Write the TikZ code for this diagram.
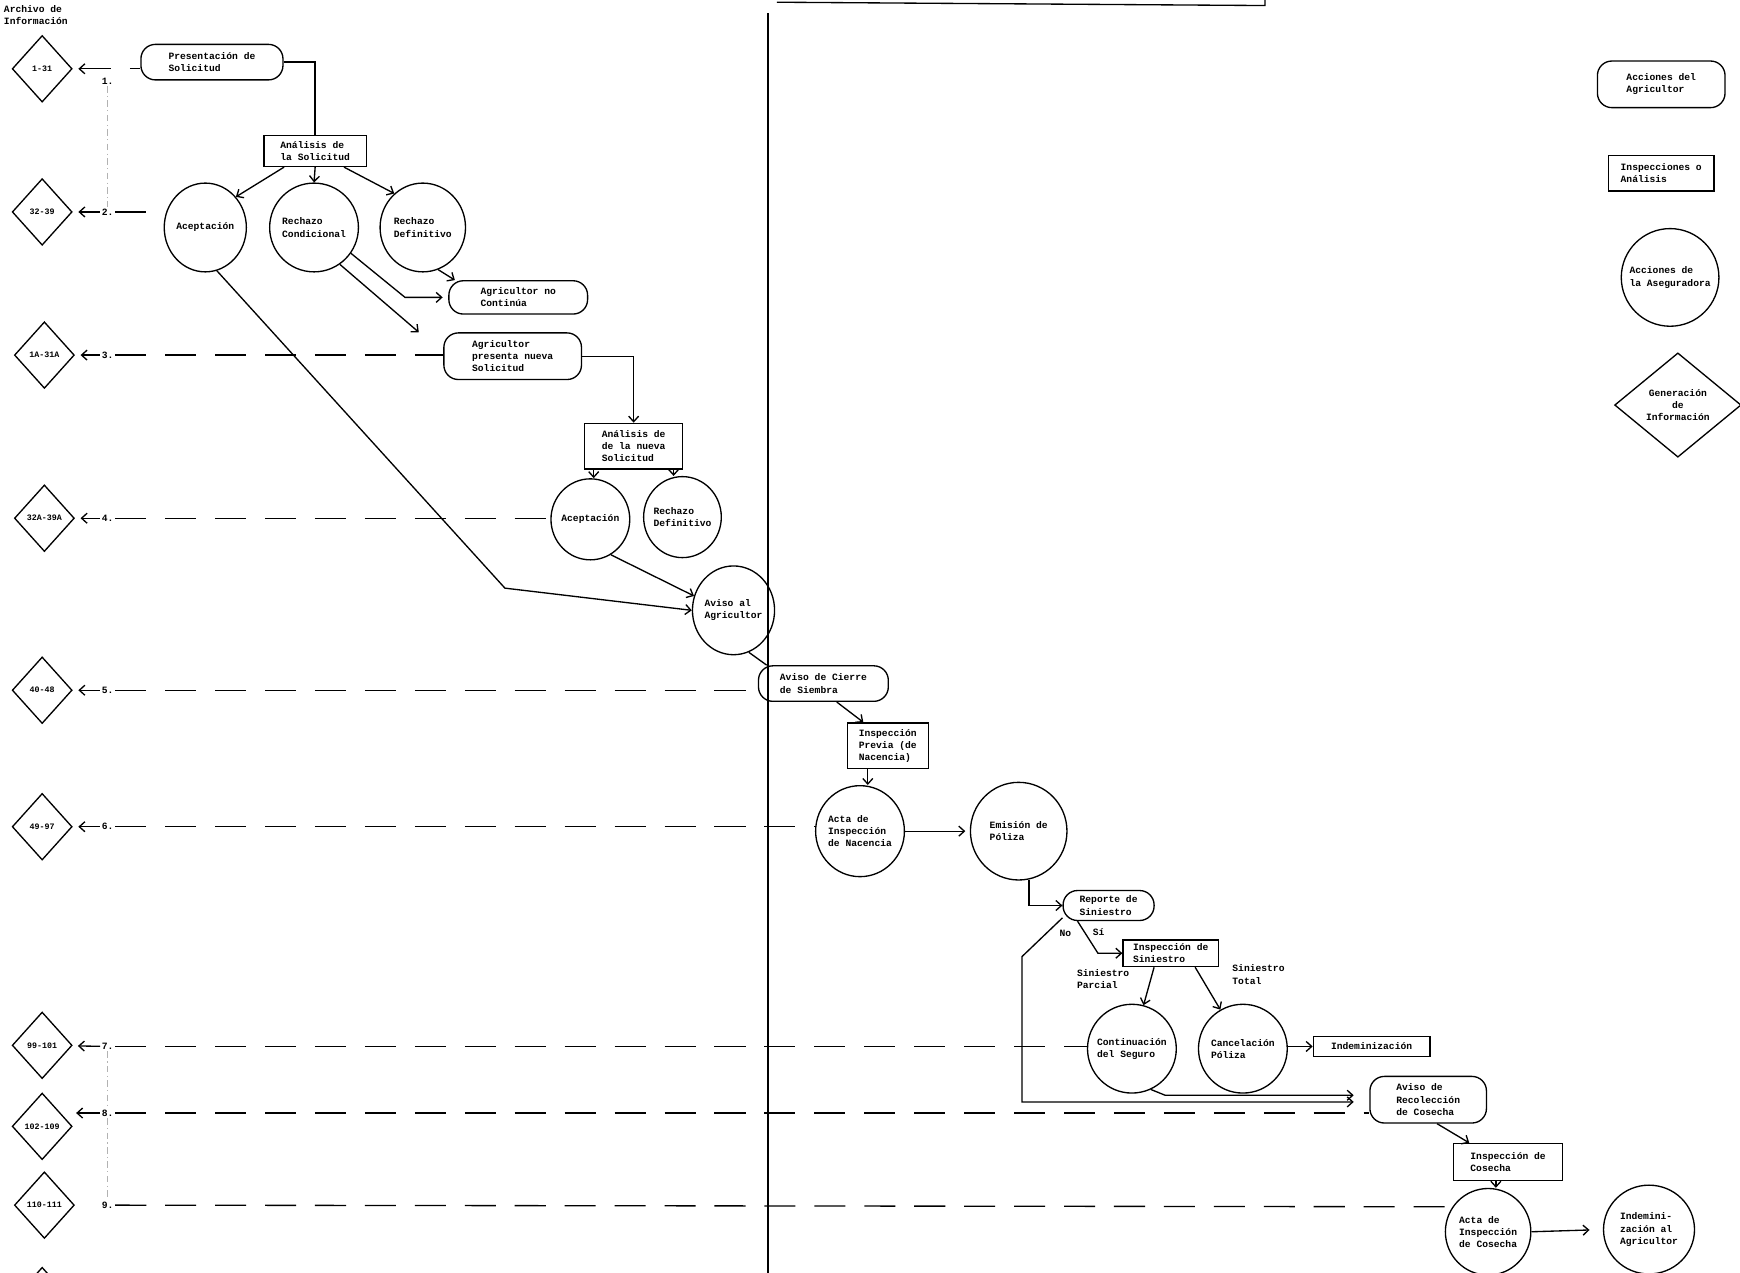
\documentclass[tikz,border=0pt]{standalone}
\usepackage{fontspec}
\setmainfont{Liberation Mono}
\usetikzlibrary{arrows.meta,positioning,shapes.geometric}

\begin{document}
\begin{tikzpicture}[
  x=1pt, y=-1pt,
  font=\fontsize{8.7}{11}\selectfont\bfseries,
  line width=1.2pt,
  agr/.style={draw, rounded corners=13pt, align=left, inner sep=2pt},
  insp/.style={draw, align=left, inner sep=2pt},
  aseg/.style={draw, ellipse, align=left, inner xsep=-6pt, inner ysep=0pt},
  info/.style={draw, diamond, inner sep=0pt, minimum width=54pt, minimum height=60pt,
    font=\fontsize{7.5}{9}\selectfont\bfseries},
  rowlab/.style={inner sep=1pt},
  arrow/.style={-{Straight Barb[length=5pt,width=9pt]}},
  back/.style={{Straight Barb[length=5pt,width=9pt]}-, shorten <=5pt},
  dashline/.style={dash pattern=on 28pt off 17pt},
  faint/.style={thin, gray!60, dash pattern=on 6pt off 3pt on 1pt off 3pt}
]
  \useasboundingbox (0,0) rectangle (1568,1147);

  \node[anchor=north west, align=left, inner sep=0pt] (archivo) at (3,4) {Archivo de\\Información};
  \draw (700,2) -- (1140,5) -- (1140,-10);
  \draw[line width=1.6pt] (692,12) -- (692,1150);

  % generacion de informacion
  \node[info] (d1) at (38,62) {1-31};
  \node[info] (d2) at (38,191) {32-39};
  \node[info] (d3) at (40,320) {1A-31A};
  \node[info] (d4) at (40,467) {32A-39A};
  \node[info] (d5) at (38,622) {40-48};
  \node[info] (d6) at (38,745) {49-97};
  \node[info] (d7) at (38,942) {99-101};
  \node[info] (d8) at (38,1015) {102-109};
  \node[info] (d9) at (40,1086) {110-111};
  \node[info] (d10) at (38,1172) {};

  \node[rowlab] (l1) at (97,73) {1.};
  \node[rowlab] (l2) at (97,191) {2.};
  \node[rowlab] (l3) at (97,320) {3.};
  \node[rowlab] (l4) at (97,467) {4.};
  \node[rowlab] (l5) at (97,622) {5.};
  \node[rowlab] (l6) at (97,745) {6.};
  \node[rowlab] (l7) at (97,943) {7.};
  \node[rowlab] (l8) at (97,1003) {8.};
  \node[rowlab] (l9) at (97,1086) {9.};

  % acciones
  \node[agr, minimum width=128pt, minimum height=32pt] (pres) at (191,56) {Presentación de\\Solicitud};
  \node[insp, minimum width=92pt, minimum height=28pt] (anal) at (284,136) {Análisis de\\la Solicitud};
  \node[aseg, minimum width=74pt, minimum height=80pt] (acep) at (185,205) {Aceptación};
  \node[aseg, minimum width=80pt, minimum height=80pt] (rcond) at (283,205) {Rechazo\\Condicional};
  \node[aseg, minimum width=77pt, minimum height=80pt] (rdef) at (381,205) {Rechazo\\Definitivo};
  \node[agr, minimum width=125pt, minimum height=30pt] (nocont) at (467,268) {Agricultor no\\Continúa};
  \node[agr, minimum width=124pt, minimum height=42pt] (nueva) at (462,321) {Agricultor\\presenta nueva\\Solicitud};
  \node[insp, minimum width=88pt, minimum height=41pt] (anal2) at (571,402) {Análisis de\\de la nueva\\Solicitud};
  \node[aseg, minimum width=71pt, minimum height=73pt] (acep2) at (532,468) {Aceptación};
  \node[aseg, minimum width=70pt, minimum height=73pt] (rdef2) at (615,466) {Rechazo\\Definitivo};
  \node[aseg, minimum width=74pt, minimum height=80pt] (aviso) at (661,550) {Aviso al\\Agricultor};
  \node[agr, minimum width=117pt, minimum height=32pt] (cierre) at (742,616) {Aviso de Cierre\\de Siembra};
  \node[insp, minimum width=73pt, minimum height=41pt] (previa) at (800,672) {Inspección\\Previa (de\\Nacencia)};
  \node[aseg, minimum width=80pt, minimum height=82pt] (actanac) at (775,749) {Acta de\\Inspección\\de Nacencia};
  \node[aseg, minimum width=87pt, minimum height=88pt] (emision) at (918,749) {Emisión de\\Póliza};
  \node[agr, minimum width=82pt, minimum height=27pt, inner ysep=1pt] (reporte) at (999,816) {Reporte de\\Siniestro};
  \node[insp, minimum width=86pt, minimum height=24pt, inner ysep=1pt] (inspsin) at (1055,859) {Inspección de\\Siniestro};
  \node[aseg, minimum width=80pt, minimum height=80pt] (contin) at (1020,945) {Continuación\\del Seguro};
  \node[aseg, minimum width=80pt, minimum height=80pt] (cancel) at (1120,945) {Cancelación\\Póliza};
  \node[insp, minimum width=105pt, minimum height=18pt, inner ysep=1pt] (indem) at (1236,943) {Indeminización};
  \node[agr, minimum width=105pt, minimum height=42pt] (recol) at (1287,991) {Aviso de\\Recolección\\de Cosecha};
  \node[insp, minimum width=98pt, minimum height=33pt] (inspcos) at (1359,1047) {Inspección de\\Cosecha};
  \node[aseg, minimum width=77pt, minimum height=78pt] (actacos) at (1341,1110) {Acta de\\Inspección\\de Cosecha};
  \node[aseg, minimum width=82pt, minimum height=80pt] (indemagr) at (1486,1108) {Indemini-\\zación al\\Agricultor};

  \node[inner sep=1pt] (no) at (960,841) {No};
  \node[inner sep=1pt] (si) at (990,840) {Sí};
  \node[anchor=north west, align=left, inner sep=0pt] (parcial) at (970,873) {Siniestro\\Parcial};
  \node[anchor=north west, align=left, inner sep=0pt] (total) at (1110,869) {Siniestro\\Total};

  % leyenda
  \node[agr, minimum width=115pt, minimum height=42pt] (legagr) at (1497,76) {Acciones del\\Agricultor};
  \node[insp, minimum width=95pt, minimum height=32pt] (leginsp) at (1497,156) {Inspecciones o\\Análisis};
  \node[aseg, minimum width=88pt, minimum height=88pt] (legaseg) at (1505,250) {Acciones de\\la Aseguradora};
  \node[info, minimum width=114pt, minimum height=94pt, align=center,
    font=\fontsize{8.7}{11}\selectfont\bfseries] (leginfo) at (1512,365) {Generación\\de\\Información};

  % flujo
  \draw (pres.east) -| (anal.north);
  \draw[arrow] ([xshift=-28pt]anal.south) -- (acep.45);
  \draw[arrow] (anal.south) -- (rcond.north);
  \draw[arrow] ([xshift=26pt]anal.south) -- (rdef.130);
  \draw[arrow] (rdef.-70) -- ([xshift=6pt]nocont.north west);
  \draw[arrow, shorten >=5pt] (rcond.-35) -- (365,268) -- (nocont.west);
  \draw[arrow] (rcond.-55) -- ([xshift=-22pt]nueva.north west);
  \draw[arrow] (nueva.east) -| (anal2.north);
  \draw[arrow] ([xshift=-36pt]anal2.south) -- ([xshift=-36pt]anal2.south |- acep2.north);
  \draw[arrow] ([xshift=36pt]anal2.south) -- ([xshift=36pt]anal2.south |- rdef2.north);
  \coordinate (bend1) at (455,530);
  \draw[arrow] (acep.-75) -- (bend1) -- (aviso.west);
  \draw[arrow] (acep2.-60) -- (aviso.160);
  \draw (aviso.-70) -- ([xshift=8pt]cierre.north west);
  \draw[arrow] ([xshift=12pt]cierre.south) -- ([xshift=-22pt]previa.north);
  \draw[arrow] ([xshift=-18pt]previa.south) -- ([xshift=-18pt]previa.south |- actanac.north);
  \draw[arrow, shorten >=4pt] (actanac.east) -- (emision.west);
  \draw[arrow] (emision.-78) |- (reporte.west);
  \draw[arrow] ([xshift=-28pt]reporte.south) -- ([xshift=-22pt]inspsin.west) -- (inspsin.west);
  \coordinate (nobend) at (921,862);
  \draw[arrow, shorten >=14pt] (reporte.-165) -- (nobend) |- ([yshift=-2pt]recol.west);
  \draw[arrow] ([xshift=-15pt]inspsin.south) -- (contin.75);
  \draw[arrow] ([xshift=22pt]inspsin.south) -- (cancel.120);
  \draw[arrow] (cancel.east |- indem) -- (indem.west);
  \coordinate (cbend) at (1050,987);
  \draw[arrow, shorten >=14pt] (contin.-65) -- (cbend) -- (cbend -| recol.west);
  \draw[arrow] ([xshift=8pt]recol.south) -- ([xshift=-35pt]inspcos.north);
  \draw[arrow] ([xshift=-11pt]inspcos.south) -- ([xshift=-11pt]inspcos.south |- actacos.north);
  \draw[arrow, shorten >=12pt] (actacos.east) -- (indemagr.west);

  % lineas de archivo
  \draw[dashline, back] (d1) -- (d1 -| pres.west);
  \draw[dashline, back] (d2) -- (l2);
  \draw[dashline] (l2) -- (l2 -| acep.west);
  \draw[dashline, back] (d3) -- (l3);
  \draw[dashline] (l3) -- (l3 -| nueva.west);
  \draw[dashline, back] (d4) -- (l4);
  \draw[dashline] (l4) -- (l4 -| acep2.west);
  \draw[dashline, back] (d5) -- (l5);
  \draw[dashline] (l5) -- (l5 -| cierre.west);
  \draw[dashline, back] (d6) -- (l6);
  \draw[dashline] (l6) -- (l6 -| actanac.west);
  \draw[dashline, back] (d7) -- (l7);
  \draw[dashline] (l7) -- (l7 -| contin.west);
  \draw[dashline, arrow, shorten >=3pt] (l8) -- (l8 -| d8.east);
  \draw[dashline] (l8) -- (l8 -| recol.west);
  \draw[dashline] (l9) -- (actacos.145);
  \draw[faint] (l1) -- (l2);
  \draw[faint] (l7) -- (l8);
  \draw[faint] (l8) -- (l9);
\end{tikzpicture}
\end{document}
